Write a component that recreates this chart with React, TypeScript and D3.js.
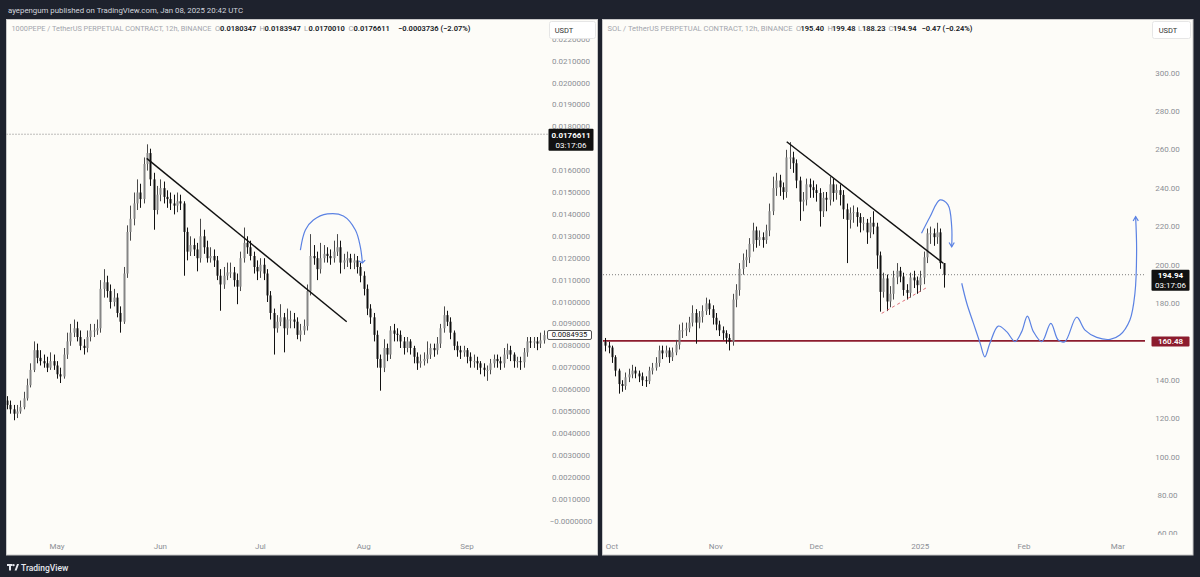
import React from 'react';
import * as d3 from 'd3';

const DAY_MS = 86400000;

// ---------------- 1000PEPE (left), daily candles, prices in units of 1e-3 ----------------
const pepeStart = Date.UTC(2024, 3, 16);
const pepeUnit = 0.001;
const pepeFirstOpen = 5.5;
const pepeClose = [
  5.3, 5.1, 4.9, 5.0, 5.2, 5.6, 6.2, 6.9, 7.8, 7.45,
  7.3, 7.2, 7.0, 7.3, 7.1, 6.7, 6.6, 7.6, 8.2, 8.6,
  8.8, 8.4, 8.0, 7.9, 8.4, 8.7, 8.7, 8.8, 10.6, 10.9,
  10.5, 10.0, 10.2, 9.5, 9.1, 11.3, 13.2, 13.8, 14.5, 15.0,
  14.7, 16.3, 16.8, 15.6, 14.2, 14.9, 15.2, 14.8, 14.7, 14.5,
  14.4, 14.6, 14.5, 13.2, 12.3, 12.6, 12.4, 12.0, 13.0, 12.5,
  12.0, 12.1, 11.9, 11.2, 10.8, 11.2, 11.35, 11.35, 11.0,
  10.7, 12.0, 12.7, 12.5, 12.1, 11.6, 11.4, 11.7, 11.3, 10.3,
  9.5, 8.8, 9.1, 9.3, 8.8, 9.2, 9.2, 9.1, 8.5, 8.7,
  8.9, 10.5, 12.1, 12.0, 11.5, 12.0, 12.2, 12.1, 12.0, 12.3,
  12.5, 11.8, 11.9, 12.0, 11.8, 11.9, 11.6, 11.2, 10.6, 9.7,
  9.3, 8.5, 7.4, 7.0, 7.9, 7.6, 8.7, 8.55, 8.5, 8.2,
  7.9, 8.2, 7.9, 7.5, 7.2, 7.3, 7.4, 7.6, 7.9, 7.8,
  8.1, 8.8, 9.4, 9.1, 8.6, 8.0, 7.8, 7.7, 7.8, 7.5,
  7.3, 7.3, 7.2, 7.0, 6.9, 6.9, 7.2, 7.4, 7.3,
  7.2, 7.6, 7.8, 7.6, 7.3, 7.3, 7.25, 7.7, 8.2, 8.15,
  8.2, 8.1, 8.25, 8.49,
];
const pepeHigh = [
  5.7, 5.5, 5.3, 5.3, 5.5, 5.9, 6.5, 7.2, 8.2, 8.1,
  7.8, 7.6, 7.5, 7.7, 7.6, 7.3, 7.0, 7.9, 8.6, 9.0,
  9.2, 9.1, 8.7, 8.3, 8.7, 9.0, 9.0, 9.2, 11.0, 11.5,
  11.2, 10.8, 10.6, 10.4, 9.8, 11.6, 13.5, 14.4, 15.0, 15.6,
  15.4, 16.6, 17.2, 17.0, 15.9, 15.3, 15.6, 15.5, 15.1, 15.0,
  14.9, 15.0, 14.9, 14.6, 13.4, 13.0, 12.9, 12.7, 13.8, 13.3,
  12.8, 12.5, 12.4, 12.1, 11.5, 11.6, 11.8, 11.8, 11.6,
  11.3, 12.3, 13.4, 13.0, 12.8, 12.3, 11.9, 12.0, 12.0, 11.5,
  10.5, 9.7, 9.4, 9.9, 9.5, 9.7, 9.6, 9.5, 9.3, 9.0,
  9.2, 10.8, 13.1, 12.6, 12.3, 12.7, 12.6, 12.5, 12.4, 12.8,
  13.1, 12.8, 12.2, 12.3, 12.2, 12.2, 12.1, 11.8, 11.4, 10.8,
  9.9, 9.5, 8.7, 7.6, 8.3, 8.1, 8.9, 9.0, 8.8, 8.7,
  8.4, 8.4, 8.3, 8.0, 7.7, 7.6, 7.7, 8.2, 8.1, 8.1,
  8.4, 9.0, 9.8, 9.6, 9.3, 8.7, 8.2, 8.0, 8.0, 7.9,
  7.7, 7.6, 7.5, 7.3, 7.2, 7.1, 7.4, 7.6, 7.6,
  7.5, 7.9, 8.1, 8.0, 7.7, 7.5, 7.5, 7.9, 8.4, 8.4,
  8.4, 8.4, 8.6, 8.7,
];
const pepeLow = [
  5.1, 4.9, 4.6, 4.7, 4.9, 5.1, 5.5, 6.1, 6.8, 7.2,
  7.1, 7.0, 6.8, 6.9, 6.9, 6.5, 6.3, 6.5, 7.4, 8.0,
  8.4, 8.2, 7.8, 7.6, 7.7, 8.2, 8.4, 8.5, 8.6, 10.2,
  10.2, 9.7, 9.8, 9.3, 8.6, 9.0, 11.1, 12.8, 13.5, 14.2,
  14.3, 14.5, 16.0, 15.3, 13.3, 14.0, 14.6, 14.5, 14.3, 14.2,
  14.0, 14.1, 14.2, 11.2, 11.9, 12.1, 12.1, 11.4, 11.8, 12.2,
  11.8, 11.8, 11.6, 11.0, 9.6, 10.6, 11.0, 11.1, 10.7,
  9.9, 10.5, 11.8, 12.2, 11.9, 11.3, 11.0, 11.1, 11.0, 10.0,
  9.2, 7.6, 8.6, 8.9, 7.7, 8.5, 8.8, 8.8, 8.3, 8.2,
  8.5, 8.7, 10.3, 11.7, 11.0, 11.3, 11.8, 11.8, 11.7, 11.8,
  12.1, 11.3, 11.5, 11.6, 11.5, 11.5, 11.3, 10.9, 10.3, 9.4,
  9.0, 8.2, 7.0, 5.95, 6.8, 7.3, 7.4, 8.2, 8.2, 7.9,
  7.6, 7.7, 7.6, 7.2, 6.9, 7.0, 7.1, 7.2, 7.4, 7.5,
  7.6, 7.9, 8.6, 8.9, 8.3, 7.8, 7.5, 7.4, 7.5, 7.2,
  7.0, 7.0, 6.9, 6.7, 6.6, 6.4, 6.7, 7.0, 7.0,
  6.9, 7.0, 7.4, 7.3, 7.0, 7.0, 6.9, 7.0, 7.5, 7.9,
  7.9, 7.8, 7.9, 8.1,
];
const pepeTickValues = [
  0, 0.001, 0.002, 0.003, 0.004, 0.005, 0.006, 0.007, 0.008, 0.009, 0.01, 0.011,
  0.012, 0.013, 0.014, 0.015, 0.016, 0.017, 0.018, 0.019, 0.02, 0.021, 0.022,
];
const pepeMonthDates = [Date.UTC(2024, 4, 1), Date.UTC(2024, 5, 1), Date.UTC(2024, 6, 1), Date.UTC(2024, 7, 1), Date.UTC(2024, 8, 1)];
const pepeMonthLabels = ['May', 'Jun', 'Jul', 'Aug', 'Sep'];
const pepeLastPrice = 0.0176611;
const pepeMarkPrice = 0.0084935;
// drawings: [days after pepeStart, price ×1e-3]
const pepeTrend = [[41.9, 16.56], [101.9, 9.1]];
const pepeArc = [[88.0, 12.37], [89.5, 13.29], [91.9, 13.74], [96.1, 14.02], [100.9, 13.93], [104.5, 13.29], [106.0, 12.51], [106.6, 11.78]];

// ---------------- SOL (right), daily candles ----------------
const solStart = Date.UTC(2024, 8, 29);
const solFirstOpen = 160;
const solClose = [
  158, 157, 152, 145, 138, 137, 141.5, 143, 145, 143.5,
  142, 140, 139.5, 145, 146.5, 149, 155.5, 154, 155.5, 152,
  154.5, 158.5, 166, 166, 167, 170, 175, 170, 173, 176,
  180, 177, 172.5, 169, 166, 164.5, 162, 160, 182, 187,
  198, 202.5, 204, 211, 218, 213, 214.5, 213, 218, 228,
  240, 244, 240.5, 238, 256, 256, 253, 244, 233, 234,
  242, 240.5, 239, 237.5, 228, 235, 234, 242, 237.5, 239,
  236.5, 229, 223.5, 227, 227.5, 225, 222, 222, 217, 222,
  220, 205, 186, 193, 181, 185, 193.5, 197, 194, 187,
  185.5, 193.5, 192, 189.5, 193.5, 204, 216.5, 216.5, 214.5, 217,
  201, 194.94,
];
const solHigh = [
  162, 160, 158, 153, 146, 140, 144, 146, 148, 147,
  145, 144, 142, 147, 149, 152, 158, 158, 158, 157,
  157, 161, 169, 170, 170, 173, 179, 177, 176, 179,
  183, 182, 179, 175, 171, 168, 166, 164, 185, 190,
  201, 206, 208, 214, 222, 220, 218, 217, 221, 232,
  246, 248, 247, 243, 260, 264, 259, 255, 246, 238,
  245, 245, 244, 242, 240, 238, 238, 246, 245, 242,
  242, 239, 232, 230, 231, 230, 227, 225, 224, 225,
  228, 222, 207, 196, 195, 189, 197, 201, 199, 196,
  190, 196, 197, 194, 197, 207, 219, 220, 219, 222,
  219, 199.48,
];
const solLow = [
  155, 154, 149, 142, 133, 134, 135, 139, 141, 141,
  139, 137, 136.5, 138, 143, 145, 147, 151, 152, 149,
  150, 153, 156, 162, 163, 165, 168, 159, 167, 170,
  174, 174, 169, 166, 163, 161, 159, 155.5, 158, 178,
  184, 195, 199, 201, 207, 209, 210, 209, 211, 215,
  226, 236, 236, 234, 235, 250, 248, 240, 223, 228,
  231, 235, 235, 233, 220, 225, 228, 231, 233, 234,
  231, 224, 201, 219, 222, 220, 217, 218, 211, 214,
  216, 198, 175.7, 183, 176, 178, 182, 190, 191, 184,
  182, 183, 188, 185, 186, 190, 201, 211, 210, 211,
  198, 188.23,
];
const solTickValues = [60, 80, 100, 120, 140, 160, 180, 200, 220, 240, 260, 280, 300];
const solMonthDates = [Date.UTC(2024, 9, 1), Date.UTC(2024, 10, 1), Date.UTC(2024, 11, 1), Date.UTC(2025, 0, 1), Date.UTC(2025, 1, 1), Date.UTC(2025, 2, 1)];
const solMonthLabels = ['Oct', 'Nov', 'Dec', '2025', 'Feb', 'Mar'];
const solLastPrice = 194.94;
const solSupportLevel = 160.48;
// drawings: [days after solStart, price]
const solTrend = [[54.15, 264.2], [100.9, 200.9]];
const solRisingDashed = [[82.5, 174.8], [96.4, 188.7]];
const solArcTop = [[94.4, 216.5], [96.9, 225], [99.9, 233.9], [102.3, 231.3], [103.4, 220], [103.4, 209.5]];
const solProjection = [
  [106.4, 190.5], [107.9, 180.1], [109.9, 169.6], [111.9, 159.2], [113.3, 152.2], [114.8, 159.2],
  [117.3, 168.2], [119.8, 165.3], [122.3, 160.1], [124.3, 165.3], [126.0, 173.4], [127.8, 165.3],
  [130.3, 160.1], [133.0, 169.6], [135.2, 160.9], [137.2, 160.1], [140.7, 172.8], [143.2, 166.1],
  [146.7, 162.3], [150.7, 161.3], [153.6, 163.5], [156.6, 171.4], [158.1, 185.3], [158.6, 207.8],
  [158.3, 225.2],
];

// ---------------- styling ----------------
const BG = '#1e222d';
const PANEL = '#fdfcf8';
const UP = '#858585';
const UP_WICK = '#4a4a4a';
const DOWN = '#111111';
const AXIS_TEXT = '#8c8f96';
const BLUE = '#5b82e3';
const RED = '#8c1c2e';
const FONT = "Roboto, 'Open Sans', 'Liberation Sans', sans-serif";

type Candle = { date: Date; o: number; h: number; l: number; c: number };

function buildCandles(start: number, firstOpen: number, close: number[], high: number[], low: number[], unit: number): Candle[] {
  return close.map((c, i) => {
    const o = i === 0 ? firstOpen : close[i - 1];
    return {
      date: new Date(start + i * DAY_MS),
      o: o * unit,
      c: c * unit,
      h: Math.max(high[i], o, c) * unit,
      l: Math.min(low[i], o, c) * unit,
    };
  });
}

function Candles({ data, x, y }: { data: Candle[]; x: any; y: any }) {
  return (
    <g>
      {data.map((d, i) => {
        const cx = Math.round(x(d.date)) + 0.5;
        const up = d.c >= d.o;
        const top = y(Math.max(d.o, d.c));
        const bot = y(Math.min(d.o, d.c));
        return (
          <g key={i}>
            <line x1={cx} x2={cx} y1={y(d.h)} y2={y(d.l)} stroke={up ? UP_WICK : DOWN} strokeWidth={1} />
            <rect x={cx - 1} y={top} width={2} height={Math.max(1, bot - top)} fill={up ? UP : DOWN} />
          </g>
        );
      })}
    </g>
  );
}

function arrowHead(pts: [number, number][], size = 6, spread = 0.5) {
  const [x1, y1] = pts[pts.length - 2];
  const [x2, y2] = pts[pts.length - 1];
  const a = Math.atan2(y2 - y1, x2 - x1);
  const w1 = [x2 - size * Math.cos(a - spread), y2 - size * Math.sin(a - spread)];
  const w2 = [x2 - size * Math.cos(a + spread), y2 - size * Math.sin(a + spread)];
  return `M${w1[0]},${w1[1]}L${x2},${y2}L${w2[0]},${w2[1]}`;
}

export default function App() {
  const pepeCandles = buildCandles(pepeStart, pepeFirstOpen, pepeClose, pepeHigh, pepeLow, pepeUnit);
  const solCandles = buildCandles(solStart, solFirstOpen, solClose, solHigh, solLow, 1);

  const pepeX = d3.scaleUtc().domain([new Date(pepeStart), new Date(pepeStart + 160 * DAY_MS)]).range([7.05, 7.05 + 160 * 3.3333]);
  const pepeY = d3.scaleLinear().domain([0, 0.022]).range([521, 521 - 21.9 * 22]);
  const solX = d3.scaleUtc().domain([new Date(solStart), new Date(solStart + 160 * DAY_MS)]).range([605.3, 605.3 + 160 * 3.35]);
  const solY = d3.scaleLinear().domain([60, 300]).range([649 - 1.92 * 60, 649 - 1.92 * 300]);

  const toPx = (pts: number[][], x: any, y: any, start: number, unit: number): [number, number][] =>
    pts.map((d) => [x(new Date(start + d[0] * DAY_MS)), y(d[1] * unit)] as [number, number]);

  const straight = d3.line<[number, number]>();
  const smooth = d3.line<[number, number]>().curve(d3.curveCatmullRom.alpha(0.5));

  const pepeTrendPx = toPx(pepeTrend, pepeX, pepeY, pepeStart, pepeUnit);
  const pepeArcPx = toPx(pepeArc, pepeX, pepeY, pepeStart, pepeUnit);
  const solTrendPx = toPx(solTrend, solX, solY, solStart, 1);
  const solDashPx = toPx(solRisingDashed, solX, solY, solStart, 1);
  const solArcPx = toPx(solArcTop, solX, solY, solStart, 1);
  const solProjPx = toPx(solProjection, solX, solY, solStart, 1);

  const fmtPepe = (v: number) => (v === 0 ? '\u22120.0000000' : v.toFixed(7));

  const pepeLastY = pepeY(pepeLastPrice);
  const pepeMarkY = pepeY(pepeMarkPrice);
  const solLastY = solY(solLastPrice);
  const solSupY = solY(solSupportLevel);

  // boxes drawn on the price scale hide the tick labels under them
  const pepeBoxes = [[pepeLastY - 5.5, pepeLastY + 16.5], [pepeMarkY - 4.5, pepeMarkY + 4.5]];
  const solBoxes = [[solLastY - 5, solLastY + 16], [solSupY - 4.5, solSupY + 5.5]];
  const hidden = (ty: number, boxes: number[][]) => boxes.some(([a, b]) => ty > a + 1 && ty < b + 1);

  const legendGrey = '#a3a6ad';
  const legendDark = '#131722';

  return (
    <div style={{ position: 'absolute', left: 0, top: 0, width: 1200, height: 577 }}>
      <svg width={1200} height={577} style={{ display: 'block' }} fontFamily={FONT}>
        <defs>
          <clipPath id="clipPepe"><rect x={6.5} y={20} width={541.5} height={516} /></clipPath>
          <clipPath id="clipSol"><rect x={603} y={20} width={542} height={516} /></clipPath>
          <clipPath id="clipPepeAxis"><rect x={548} y={20} width={49} height={515} /></clipPath>
          <clipPath id="clipSolAxis"><rect x={1145} y={20} width={48} height={515} /></clipPath>
        </defs>
        <rect x={0} y={0} width={1200} height={577} fill={BG} />
        <text x={8} y={13} fontSize={7.5} fill="#d1d4dc" textLength={235} lengthAdjust="spacingAndGlyphs">
          ayepengum published on TradingView.com, Jan 08, 2025 20:42 UTC
        </text>

        {/* ================= LEFT PANEL ================= */}
        <rect x={6.5} y={19.5} width={591} height={535.5} fill={PANEL} stroke="#c9c9c9" strokeWidth={1} />
        <g clipPath="url(#clipPepe)">
          <line x1={6.5} x2={548} y1={pepeLastY} y2={pepeLastY} stroke="#7d7d7d" strokeWidth={1} strokeDasharray="1 2" />
          <Candles data={pepeCandles} x={pepeX} y={pepeY} />
          <path d={straight(pepeTrendPx) || ''} fill="none" stroke="#111" strokeWidth={1.5} />
          <path d={smooth(pepeArcPx) || ''} fill="none" stroke={BLUE} strokeWidth={1.2} />
          <path d={arrowHead(pepeArcPx, 4, 0.9)} fill="none" stroke={BLUE} strokeWidth={1.2} />
        </g>
        <g clipPath="url(#clipPepeAxis)">
          {pepeTickValues.filter((v) => !hidden(pepeY(v), pepeBoxes)).map((v) => (
            <text key={v} x={571} y={pepeY(v)} fontSize={8} fill={AXIS_TEXT} textAnchor="middle" dominantBaseline="central">
              {fmtPepe(v)}
            </text>
          ))}
        </g>
        {pepeMonthDates.map((d, i) => (
          <text key={d} x={pepeX(new Date(d))} y={546} fontSize={8} fill={AXIS_TEXT} textAnchor="middle" dominantBaseline="central">
            {pepeMonthLabels[i]}
          </text>
        ))}
        {/* last price label */}
        <rect x={548.5} y={pepeLastY - 5.5} width={45} height={22} fill="#111" rx={1} />
        <text x={571} y={pepeLastY + 1} fontSize={8} fontWeight={700} fill="#fff" textAnchor="middle" dominantBaseline="central">
          {pepeLastPrice.toFixed(7)}
        </text>
        <text x={571} y={pepeLastY + 11} fontSize={8} fill="#fff" textAnchor="middle" dominantBaseline="central">03:17:06</text>
        {/* marked price label */}
        <rect x={547.5} y={pepeMarkY - 4.5} width={44} height={9} fill="#fff" stroke="#222" strokeWidth={0.8} rx={1.5} />
        <text x={569.5} y={pepeMarkY} fontSize={7.5} fill="#111" textAnchor="middle" dominantBaseline="central">
          {pepeMarkPrice.toFixed(7)}
        </text>
        {/* USDT button */}
        <rect x={549.5} y={21.5} width={46} height={17} fill="#fff" stroke="#e6e6e6" rx={2} />
        <text x={564} y={30.5} fontSize={7.5} fill="#333" textAnchor="middle" dominantBaseline="central">USDT</text>
        {/* legend */}
        <g fontSize={7.5} dominantBaseline="central">
          <text x={11.5} y={28.5} fill={legendGrey} textLength={200} lengthAdjust="spacingAndGlyphs">
            1000PEPE / TetherUS PERPETUAL CONTRACT, 12h, BINANCE
          </text>
          <text x={215} y={28.5} fill={legendGrey}>O</text>
          <text x={220} y={28.5} fill={legendDark} fontWeight={600}>0.0180347</text>
          <text x={259.5} y={28.5} fill={legendGrey}>H</text>
          <text x={264.5} y={28.5} fill={legendDark} fontWeight={600}>0.0183947</text>
          <text x={304} y={28.5} fill={legendGrey}>L</text>
          <text x={308.5} y={28.5} fill={legendDark} fontWeight={600}>0.0170010</text>
          <text x={348.5} y={28.5} fill={legendGrey}>C</text>
          <text x={353.5} y={28.5} fill={legendDark} fontWeight={600}>0.0176611</text>
          <text x={398} y={28.5} fill={legendDark} fontWeight={600}>{'\u22120.0003736 (\u22122.07%)'}</text>
        </g>

        {/* ================= RIGHT PANEL ================= */}
        <rect x={602.5} y={19.5} width={590.5} height={535.5} fill={PANEL} stroke="#c9c9c9" strokeWidth={1} />
        <g clipPath="url(#clipSol)">
          <line x1={603} x2={1145} y1={solLastY} y2={solLastY} stroke="#7d7d7d" strokeWidth={1} strokeDasharray="1 2" />
          <line x1={603} x2={1145} y1={solSupY} y2={solSupY} stroke={RED} strokeWidth={1.6} />
          <Candles data={solCandles} x={solX} y={solY} />
          <path d={straight(solTrendPx) || ''} fill="none" stroke="#111" strokeWidth={1.5} />
          <path d={straight(solDashPx) || ''} fill="none" stroke="#e0707a" strokeWidth={1} strokeDasharray="3 3" />
          <path d={smooth(solArcPx) || ''} fill="none" stroke={BLUE} strokeWidth={1.2} />
          <path d={arrowHead(solArcPx, 5, 0.55)} fill="none" stroke={BLUE} strokeWidth={1.2} />
          <path d={smooth(solProjPx) || ''} fill="none" stroke={BLUE} strokeWidth={1.2} />
          <path d={arrowHead(solProjPx, 5, 0.55)} fill="none" stroke={BLUE} strokeWidth={1.2} />
        </g>
        <g clipPath="url(#clipSolAxis)">
          {solTickValues.filter((v) => !hidden(solY(v), solBoxes)).map((v) => (
            <text key={v} x={1167.5} y={solY(v)} fontSize={8} fill={AXIS_TEXT} textAnchor="middle" dominantBaseline="central">
              {v.toFixed(2)}
            </text>
          ))}
        </g>
        {solMonthDates.map((d, i) => (
          <text key={d} x={solX(new Date(d))} y={546} fontSize={8} fill={AXIS_TEXT} textAnchor="middle" dominantBaseline="central">
            {solMonthLabels[i]}
          </text>
        ))}
        {/* last price label */}
        <rect x={1151.5} y={solLastY - 5} width={38} height={21} fill="#111" rx={1} />
        <text x={1170.5} y={solLastY + 0.5} fontSize={8} fontWeight={700} fill="#fff" textAnchor="middle" dominantBaseline="central">
          {solLastPrice.toFixed(2)}
        </text>
        <text x={1170.5} y={solLastY + 10.5} fontSize={8} fill="#fff" textAnchor="middle" dominantBaseline="central">03:17:06</text>
        {/* support level label */}
        <rect x={1151.5} y={solSupY - 4.5} width={38} height={10} fill={RED} rx={1} />
        <text x={1170.5} y={solSupY + 0.5} fontSize={8} fontWeight={600} fill="#fff" textAnchor="middle" dominantBaseline="central">
          {solSupportLevel.toFixed(2)}
        </text>
        {/* USDT button */}
        <rect x={1152.5} y={21.5} width={38} height={17} fill="#fff" stroke="#e6e6e6" rx={2} />
        <text x={1168} y={30.5} fontSize={7.5} fill="#333" textAnchor="middle" dominantBaseline="central">USDT</text>
        {/* legend */}
        <g fontSize={7.5} dominantBaseline="central">
          <text x={607.5} y={28.5} fill={legendGrey} textLength={185} lengthAdjust="spacingAndGlyphs">
            SOL / TetherUS PERPETUAL CONTRACT, 12h, BINANCE
          </text>
          <text x={796} y={28.5} fill={legendGrey}>O</text>
          <text x={800.5} y={28.5} fill={legendDark} fontWeight={600}>195.40</text>
          <text x={827.5} y={28.5} fill={legendGrey}>H</text>
          <text x={832} y={28.5} fill={legendDark} fontWeight={600}>199.48</text>
          <text x={858} y={28.5} fill={legendGrey}>L</text>
          <text x={862} y={28.5} fill={legendDark} fontWeight={600}>188.23</text>
          <text x={888.5} y={28.5} fill={legendGrey}>C</text>
          <text x={893} y={28.5} fill={legendDark} fontWeight={600}>194.94</text>
          <text x={921.5} y={28.5} fill={legendDark} fontWeight={600}>{'\u22120.47 (\u22120.24%)'}</text>
        </g>

        {/* footer logo */}
        <g fill="#e6e8ee">
          <rect x={7} y={564} width={5.5} height={2} />
          <rect x={9} y={564} width={2} height={6.5} />
          <circle cx={13.6} cy={565.2} r={1.1} />
          <path d="M14.6 570.5 L17 564 L19 564 L16.6 570.5 Z" />
          <text x={21} y={567.5} fontSize={8.5} fontWeight={500} dominantBaseline="central">TradingView</text>
        </g>
      </svg>
    </div>
  );
}
